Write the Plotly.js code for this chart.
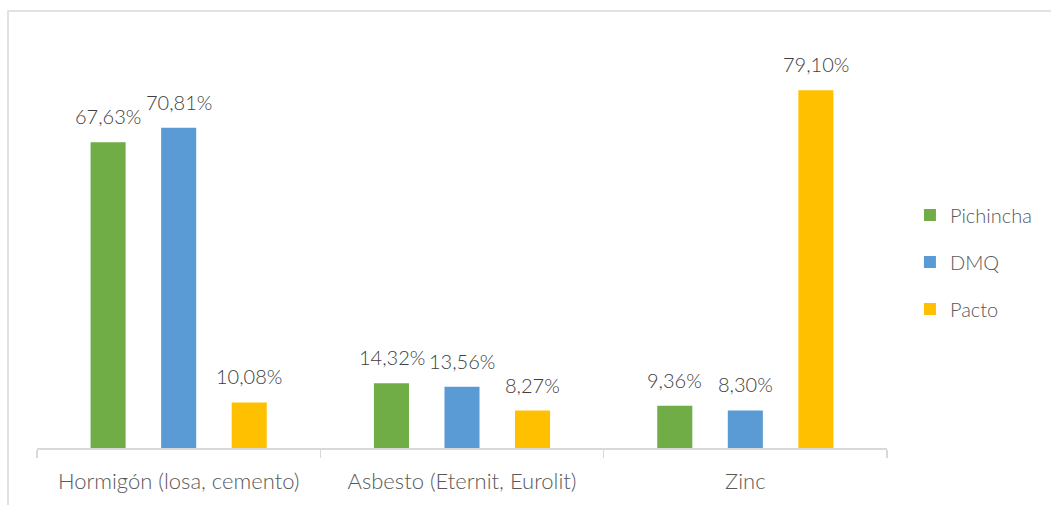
<!DOCTYPE html>
<html>
<head>
<meta charset="utf-8">
<script src="https://cdn.plot.ly/plotly-3.0.1.min.js"></script>
<style>html,body{margin:0;padding:0;background:#fff;}#chart{width:1051px;height:505px;}</style>
</head>
<body>
<div id="chart"></div>
<script>
const categories = ["Hormigón (losa, cemento)", "Asbesto (Eternit, Eurolit)", "Zinc"];
const seriesNames = ["Pichincha", "DMQ", "Pacto"];
const pichincha = [67.63, 14.32, 9.36];
const dmq = [70.81, 13.56, 8.30];
const pacto = [10.08, 8.27, 79.10];
const colors = ["#70ad47", "#5b9bd5", "#ffc000"];

const fmt = v => v.toFixed(2).replace('.', ',') + '%';
const allSeries = [pichincha, dmq, pacto];
const FONT = 'Lato, "Open Sans", sans-serif';

const data = allSeries.map((vals, i) => ({
  type: 'bar',
  name: seriesNames[i],
  legendgroup: 'g' + i,
  x: categories,
  y: vals,
  marker: {color: colors[i]},
  hoverinfo: 'none'
}));

// value labels placed above each bar
const groupStep = 70.5; // px between bars in a group
const annotations = [];
allSeries.forEach((vals, i) => {
  vals.forEach((v, j) => {
    annotations.push({
      x: categories[j], y: v, xref: 'x', yref: 'y',
      text: fmt(v), showarrow: false,
      xanchor: 'center', yanchor: 'bottom',
      xshift: (i - 1) * groupStep, yshift: 12,
      font: {family: FONT, size: 20, weight: 300, color: '#404040'}
    });
  });
});

const layout = {
  width: 1051, height: 505,
  margin: {l: 37, r: 164, t: 41, b: 57, autoexpand: false},
  paper_bgcolor: '#fff', plot_bgcolor: '#fff',
  font: {family: FONT, color: '#595959', weight: 300},
  barmode: 'group',
  bargap: 0.253,
  bargroupgap: 0.503,
  showlegend: true,
  legend: {
    x: 1.027, xanchor: 'left', y: 0.457, yanchor: 'middle',
    font: {family: FONT, size: 20, weight: 300, color: '#595959'},
    tracegroupgap: 18, traceorder: 'grouped'
  },
  xaxis: {
    type: 'category',
    showline: true, linecolor: '#d9d9d9', linewidth: 1.5,
    ticks: 'outside', tickson: 'boundaries', ticklen: 8, tickcolor: '#d9d9d9', tickwidth: 1.5,
    ticklabelstandoff: 13,
    tickfont: {family: FONT, size: 22, weight: 300, color: '#595959'},
    showgrid: false, zeroline: false, fixedrange: true
  },
  yaxis: {
    range: [0, 90], visible: false, showgrid: false, zeroline: false, fixedrange: true
  },
  annotations: annotations,
  shapes: [{
    type: 'rect', xref: 'paper', yref: 'paper',
    x0: -29/850, x1: 1020/850, y0: -70/407, y1: 1 + 30/407,
    line: {color: '#d9d9d9', width: 1.5}, fillcolor: 'rgba(0,0,0,0)', layer: 'below'
  }]
};

Plotly.newPlot('chart', data, layout, {displayModeBar: false, staticPlot: true});
</script>
</body>
</html>
